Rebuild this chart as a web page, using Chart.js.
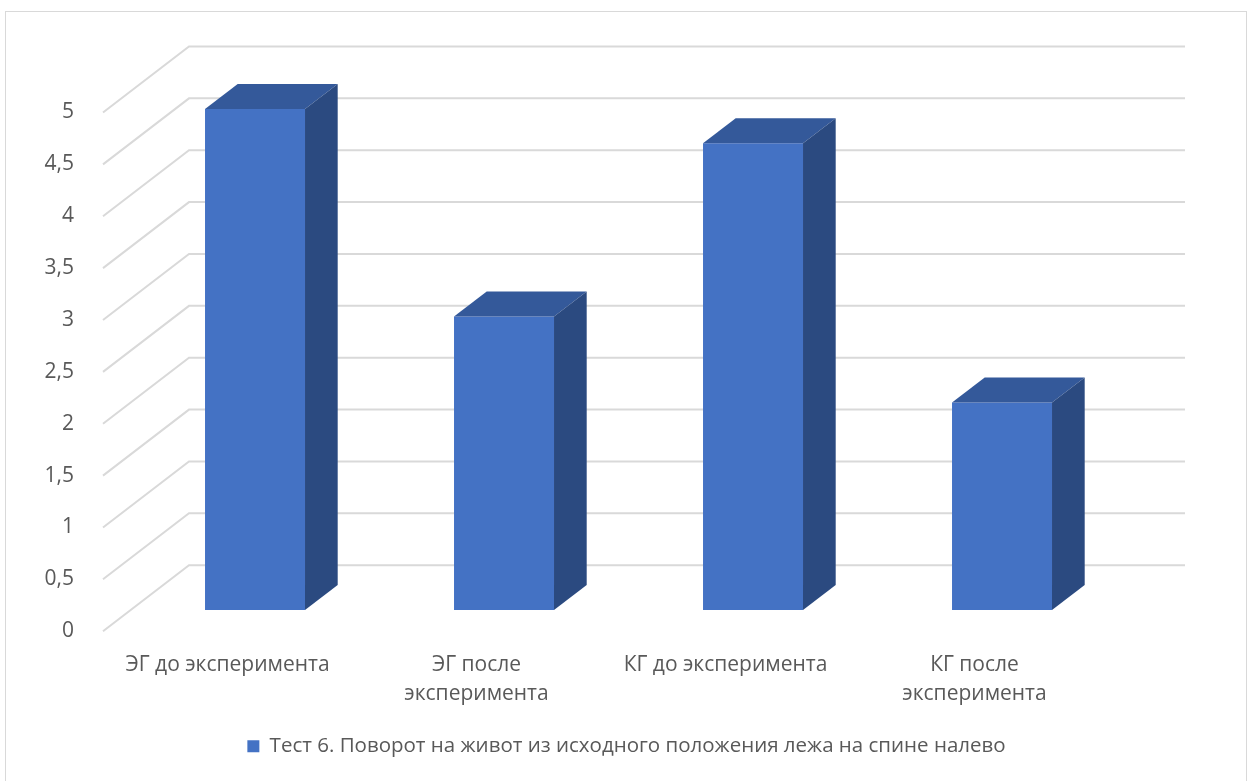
<!DOCTYPE html>
<html lang="ru">
<head>
<meta charset="utf-8">
<title>Тест 6</title>
<script src="https://cdn.jsdelivr.net/npm/chart.js@4.4.1/dist/chart.umd.min.js"></script>
<style>
  html, body { margin: 0; padding: 0; background: #fff; overflow: hidden; }
  #frame { position: absolute; left: 5px; top: 11px; width: 1242px; height: 800px; border: 1px solid #d9d9d9; box-sizing: border-box; }
  #wrap { position: absolute; left: 0; top: 0; width: 1253px; height: 781px; }
</style>
</head>
<body>
<div id="frame"></div>
<div id="wrap"><canvas id="chart"></canvas></div>
<script>
const categories = [
  ['ЭГ до эксперимента'],
  ['ЭГ после', 'эксперимента'],
  ['КГ до эксперимента'],
  ['КГ после', 'эксперимента'],
];
const seriesName = 'Тест 6. Поворот на живот из исходного положения лежа на спине налево';
const values = [4.83, 2.83, 4.5, 2.0];
const yMin = 0;
const yMax = 5;
const yStep = 0.5;

// 3D look: depth of the floor (front edge -> back wall) and where the bars sit in it
const DEPTH = { dx: 86, dy: -66 };
const BAR_NEAR = 0.32;
const BAR_FAR = 0.70;

const FRONT = '#4472c4';
const TOP = '#34599a';
const SIDE = '#2b4a80';
const GRID = '#d9d9d9';
const TEXT = '#595959';

Chart.defaults.font.family = "'Open Sans', sans-serif";

const box3d = {
  id: 'box3d',
  beforeDatasetsDraw(chart) {
    const { ctx, chartArea: a, scales: { y } } = chart;
    // left wall diagonals + back wall gridlines
    ctx.save();
    ctx.strokeStyle = GRID;
    ctx.lineWidth = 2;
    y.ticks.forEach(t => {
      const py = y.getPixelForValue(t.value);
      ctx.beginPath();
      ctx.moveTo(a.left, py);
      ctx.lineTo(a.left + DEPTH.dx, py + DEPTH.dy);
      ctx.lineTo(a.right + DEPTH.dx, py + DEPTH.dy);
      ctx.stroke();
    });
    ctx.restore();
    // push the bar front faces back into the floor
    ctx.save();
    ctx.translate(DEPTH.dx * BAR_NEAR, DEPTH.dy * BAR_NEAR);
  },
  afterDatasetsDraw(chart) {
    const { ctx } = chart;
    const ddx = DEPTH.dx * (BAR_FAR - BAR_NEAR);
    const ddy = DEPTH.dy * (BAR_FAR - BAR_NEAR);
    chart.getDatasetMeta(0).data.forEach(bar => {
      const { x, y, base, width } = bar.getProps(['x', 'y', 'base', 'width'], true);
      const l = x - width / 2, r = x + width / 2;
      ctx.fillStyle = TOP;
      ctx.beginPath();
      ctx.moveTo(l, y);
      ctx.lineTo(l + ddx, y + ddy);
      ctx.lineTo(r + ddx, y + ddy);
      ctx.lineTo(r, y);
      ctx.closePath();
      ctx.fill();
      ctx.fillStyle = SIDE;
      ctx.beginPath();
      ctx.moveTo(r, y);
      ctx.lineTo(r + ddx, y + ddy);
      ctx.lineTo(r + ddx, base + ddy);
      ctx.lineTo(r, base);
      ctx.closePath();
      ctx.fill();
    });
    ctx.restore();
  },
};

new Chart(document.getElementById('chart'), {
  type: 'bar',
  data: {
    labels: categories,
    datasets: [{
      label: seriesName,
      data: values,
      backgroundColor: FRONT,
      borderWidth: 0,
      categoryPercentage: 1,
      barPercentage: 0.4016,
      clip: false,
    }],
  },
  options: {
    responsive: true, maintainAspectRatio: false, animation: false,
    layout: { padding: { top: 112.5, right: 0, bottom: 14.5, left: 0 } },
    plugins: {
      legend: {
        position: 'bottom',
        labels: { color: TEXT, boxWidth: 12, boxHeight: 12, padding: 10, font: { size: 20.5 } },
      },
      tooltip: { enabled: false },
    },
    scales: {
      x: {
        grid: { display: false }, border: { display: false },
        ticks: { color: TEXT, font: { size: 21, lineHeight: 1.38 }, padding: 11, maxRotation: 0, autoSkip: false },
        afterFit: s => { s.height = 94.8; },
      },
      y: {
        min: yMin, max: yMax,
        grid: { display: false }, border: { display: false },
        ticks: { color: TEXT, font: { size: 21 }, stepSize: yStep, padding: 21, callback: v => String(v).replace('.', ',') },
        afterFit: s => { s.width = 103; },
      },
      // empty right-hand axis: leaves room for the back wall's depth
      yRight: {
        position: 'right',
        grid: { display: false }, border: { display: false }, ticks: { display: false },
        afterFit: s => { s.width = 154; },
      },
    },
  },
  plugins: [box3d],
});
</script>
</body>
</html>
